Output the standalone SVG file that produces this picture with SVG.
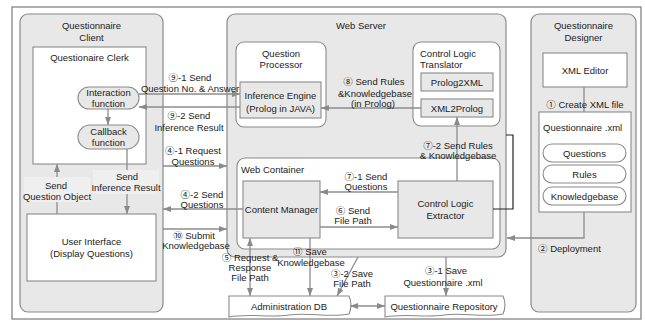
<svg xmlns="http://www.w3.org/2000/svg" width="645" height="323" viewBox="0 0 645 323">
  <style>
    text { font-family: "Liberation Sans", Arial, "Noto Sans CJK JP", sans-serif; font-size: 9.5px; fill: #222; text-anchor: middle; }
    .l { text-anchor: start; }
    .panel { fill: #e8e8e8; stroke: #8a8a8a; stroke-width: 1.2; }
    .wbox { fill: #ffffff; stroke: #8a8a8a; stroke-width: 1.1; }
    .gbox { fill: #e8e8e8; stroke: #8a8a8a; stroke-width: 1.1; }
    .conn { fill: none; stroke: #8c8c8c; stroke-width: 1.3; }
    .bg { fill: #efefef; stroke: none; }
  </style>
  <defs>
    <marker id="ah" viewBox="0 0 8 6" refX="8" refY="3" markerWidth="8" markerHeight="6" markerUnits="userSpaceOnUse" orient="auto-start-reverse">
      <path d="M0,0 L8,3 L0,6 z" fill="#8a8a8a"/>
    </marker>
  </defs>

  <!-- outer frame -->
  <rect x="12" y="7" width="629" height="312" fill="#ffffff" stroke="#7a7a7a" stroke-width="1.2"/>

  <!-- Questionnaire Client -->
  <g id="client">
    <rect class="panel" x="20" y="14" width="143" height="298" rx="8"/>
    <text x="91.5" y="29">Questionnaire</text>
    <text x="91.5" y="41">Client</text>
  </g>
  <g id="clerk">
    <rect class="wbox" x="33" y="47" width="113" height="117"/>
    <text x="89.5" y="60.5">Questionaire Clerk</text>
  </g>
  <g id="interaction">
    <rect class="gbox" x="78" y="87" width="61" height="22" rx="11"/>
    <text x="108.5" y="96">Interaction</text>
    <text x="108.5" y="107">function</text>
  </g>
  <g id="callback">
    <rect class="gbox" x="78" y="125" width="61" height="24" rx="12"/>
    <text x="108.5" y="134.5">Callback</text>
    <text x="108.5" y="146">function</text>
  </g>
  <g id="user-interface">
    <rect class="wbox" x="27" y="214" width="129" height="67"/>
    <text x="91.5" y="245">User Interface</text>
    <text x="91.5" y="256.5">(Display Questions)</text>
  </g>

  <!-- Web Server -->
  <g id="web-server">
    <rect class="panel" x="227" y="14" width="279" height="243" rx="8"/>
    <text x="361" y="28.5">Web Server</text>
  </g>
  <g id="question-processor">
    <rect class="wbox" x="236" y="42" width="90" height="85" rx="8"/>
    <text x="281" y="56.5">Question</text>
    <text x="281" y="67.5">Processor</text>
  </g>
  <g id="inference-engine">
    <rect class="gbox" x="240" y="82" width="81" height="36"/>
    <text x="280.5" y="98.5">Inference Engine</text>
    <text x="280.5" y="111.5">(Prolog in JAVA)</text>
  </g>
  <g id="translator">
    <rect class="wbox" x="413" y="42" width="87" height="84" rx="8"/>
    <text class="l" x="420" y="56.5">Control Logic</text>
    <text class="l" x="420" y="67.5">Translator</text>
  </g>
  <g id="prolog2xml">
    <rect class="gbox" x="421" y="73" width="72" height="18"/>
    <text x="457" y="85.5">Prolog2XML</text>
  </g>
  <g id="xml2prolog">
    <rect class="gbox" x="421" y="99" width="72" height="18"/>
    <text x="457" y="111.5">XML2Prolog</text>
  </g>
  <g id="web-container">
    <rect class="wbox" x="237" y="158" width="263" height="91" rx="8"/>
    <text class="l" x="241" y="172.5">Web Container</text>
  </g>
  <g id="content-manager">
    <rect class="gbox" x="243" y="181" width="77" height="57"/>
    <text x="281.5" y="212.5">Content Manager</text>
  </g>
  <g id="extractor">
    <rect class="gbox" x="398" y="181" width="95" height="57"/>
    <text x="445.5" y="206.5">Control Logic</text>
    <text x="445.5" y="218.5">Extractor</text>
  </g>

  <!-- Questionnaire Designer -->
  <g id="designer">
    <rect class="panel" x="531" y="14" width="105" height="298" rx="8"/>
    <text x="583.5" y="29">Questionnaire</text>
    <text x="583.5" y="41">Designer</text>
  </g>
  <g id="xml-editor">
    <rect class="wbox" x="543" y="53" width="84" height="34"/>
    <text x="585" y="73.5">XML Editor</text>
  </g>
  <g id="questionnaire-xml">
    <rect class="wbox" x="539" y="112" width="92" height="100"/>
    <text class="l" x="543" y="130.5">Questionnaire .xml</text>
    <rect class="wbox" x="543" y="144" width="83" height="18" rx="9"/>
    <text x="584.5" y="156.5">Questions</text>
    <rect class="wbox" x="543" y="165" width="83" height="18" rx="9"/>
    <text x="584.5" y="177.5">Rules</text>
    <rect class="wbox" x="543" y="187" width="83" height="18" rx="9"/>
    <text x="584.5" y="199.5">Knowledgebase</text>
  </g>

  <!-- storage -->
  <g id="admin-db">
    <path class="wbox" d="M229,296 H349 Q353,305 349,314 C329,318 309,312 289,315 C269,318 249,313 229,317 Z"/>
    <text x="289" y="310">Administration DB</text>
  </g>
  <g id="repository">
    <path class="wbox" d="M385,296 H503 Q507,305 503,314 C483,318 463,312 444,315 C424,318 404,313 385,317 Z"/>
    <text x="444" y="310">Questionnaire Repository</text>
  </g>

  <!-- connectors -->
  <g id="connectors">
    <line class="conn" x1="108" y1="109" x2="108" y2="125" marker-end="url(#ah)"/>
    <line class="conn" x1="127" y1="149" x2="127" y2="214" marker-end="url(#ah)"/>
    <line class="conn" x1="57" y1="214" x2="57" y2="164" marker-end="url(#ah)"/>
    <line class="conn" x1="139" y1="94" x2="240" y2="94" marker-end="url(#ah)"/>
    <line class="conn" x1="240" y1="107" x2="139" y2="107" marker-end="url(#ah)"/>
    <line class="conn" x1="421" y1="108" x2="321" y2="108" marker-end="url(#ah)"/>
    <line class="conn" x1="163" y1="166" x2="227" y2="166" marker-end="url(#ah)"/>
    <line class="conn" x1="243" y1="209" x2="163" y2="209" marker-end="url(#ah)"/>
    <line class="conn" x1="163" y1="229" x2="227" y2="229" marker-end="url(#ah)"/>
    <line class="conn" x1="398" y1="192" x2="320" y2="192" marker-end="url(#ah)"/>
    <line class="conn" x1="320" y1="227" x2="398" y2="227" marker-end="url(#ah)"/>
    <line class="conn" x1="457" y1="181" x2="457" y2="117" marker-end="url(#ah)"/>
    <polyline points="506,135 513,135 513,209 493,209" fill="none" stroke="#222" stroke-width="1.2"/>
    <line class="conn" x1="584" y1="87" x2="584" y2="112"/>
    <polyline class="conn" points="584,212 584,238 507,238" marker-end="url(#ah)"/>
    <line class="conn" x1="250" y1="238" x2="250" y2="296" marker-start="url(#ah)" marker-end="url(#ah)"/>
    <line class="conn" x1="310" y1="238" x2="310" y2="296" marker-end="url(#ah)"/>
    <line class="conn" x1="358" y1="257" x2="337" y2="296" marker-end="url(#ah)"/>
    <line class="conn" x1="446" y1="257" x2="446" y2="296" marker-end="url(#ah)"/>
    <line class="conn" x1="350" y1="306" x2="385" y2="306" marker-start="url(#ah)" marker-end="url(#ah)"/>
  </g>

  <!-- connector labels -->
  <g id="labels">
    <rect class="bg" x="93" y="170" width="66" height="24"/>
    <text x="127" y="179.5">Send</text>
    <text x="126" y="191">Inference Result</text>
    <rect class="bg" x="24" y="177" width="66" height="25"/>
    <text x="56" y="188.5">Send</text>
    <text x="57" y="199.5">Question Object</text>

    <text x="190" y="80.5">⑨-1 Send</text>
    <text x="190" y="91.5">Question No. &amp; Answer</text>
    <text x="189" y="118.5">⑨-2 Send</text>
    <text x="189" y="130.5">Inference Result</text>
    <text x="374" y="84.5">⑧ Send Rules</text>
    <text x="375" y="96.5">&amp;Knowledgebase</text>
    <text x="373" y="106.5">(in Prolog)</text>
    <text x="193" y="153.5">④-1 Request</text>
    <text x="193" y="164.5">Questions</text>
    <text x="202" y="197.5">④-2 Send</text>
    <text x="202" y="208">Questions</text>
    <text x="194" y="238.5">⑩ Submit</text>
    <text x="196" y="248.5">Knowledgebase</text>
    <text x="366" y="179.5">⑦-1 Send</text>
    <text x="366" y="189.5">Questions</text>
    <text x="353" y="213.5">⑥ Send</text>
    <text x="353" y="223.5">File Path</text>
    <text x="458" y="148.5">⑦-2 Send Rules</text>
    <text x="458" y="158.5">&amp; Knowledgebase</text>
    <text x="585" y="107.5">① Create XML file</text>
    <text class="l" x="538" y="251.5">② Deployment</text>
    <text x="250" y="260.5">⑤ Request &amp;</text>
    <text x="250" y="270.5">Response</text>
    <text x="250" y="280.5">File Path</text>
    <text x="310" y="254.5">⑪ Save</text>
    <text x="311" y="265.5">Knowledgebase</text>
    <text x="352" y="276.5">③-2 Save</text>
    <text x="352" y="286.5">File Path</text>
    <text x="446" y="273.5">③-1 Save</text>
    <text x="443" y="285.5">Questionnaire .xml</text>
  </g>
</svg>
